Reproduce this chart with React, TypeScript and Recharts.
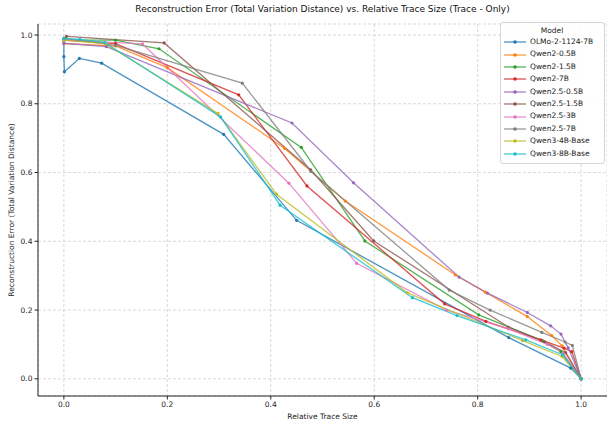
// Reconstruction error vs relative trace size, one line per model
import { LineChart, Line, XAxis, YAxis, CartesianGrid, Legend } from "recharts";

const MODELS = [
  "OLMo-2-1124-7B",
  "Qwen2-0.5B",
  "Qwen2-1.5B",
  "Qwen2-7B",
  "Qwen2.5-0.5B",
  "Qwen2.5-1.5B",
  "Qwen2.5-3B",
  "Qwen2.5-7B",
  "Qwen3-4B-Base",
  "Qwen3-8B-Base",
];

const COLORS = [
  "#1f77b4",
  "#ff7f0e",
  "#2ca02c",
  "#d62728",
  "#9467bd",
  "#8c564b",
  "#e377c2",
  "#7f7f7f",
  "#bcbd22",
  "#17becf",
];

// [relative trace size, total variation distance]
const olmo2_7b = [
  [0, 0.985], [0, 0.937], [0.001, 0.893], [0.03, 0.932], [0.073, 0.918],
  [0.309, 0.711], [0.45, 0.461], [0.86, 0.12], [0.98, 0.031], [1.0, 0.0],
];
const qwen2_05b = [
  [0, 0.975], [0.1, 0.968], [0.2, 0.905], [0.427, 0.67], [0.544, 0.517],
  [0.757, 0.302], [0.815, 0.252], [0.896, 0.181], [0.943, 0.126], [0.963, 0.096], [1.0, 0.0],
];
const qwen2_15b = [
  [0, 0.985], [0.1, 0.985], [0.184, 0.96], [0.459, 0.673], [0.582, 0.401],
  [0.802, 0.186], [0.925, 0.111], [0.961, 0.079], [1.0, 0.0],
];
const qwen2_7b = [
  [0, 0.985], [0.1, 0.975], [0.338, 0.826], [0.47, 0.561], [0.736, 0.218],
  [0.816, 0.167], [0.922, 0.113], [0.967, 0.089], [0.982, 0.079], [1.0, 0.0],
];
const qwen25_05b = [
  [0, 0.976], [0.082, 0.966], [0.441, 0.744], [0.56, 0.57], [0.764, 0.296],
  [0.819, 0.249], [0.896, 0.193], [0.941, 0.154], [0.961, 0.13], [0.975, 0.09], [1.0, 0.0],
];
const qwen25_15b = [
  [0.005, 0.996], [0.194, 0.977], [0.477, 0.608], [0.599, 0.401], [0.86, 0.15],
  [0.929, 0.108], [0.97, 0.076], [1.0, 0.0],
];
const qwen25_3b = [
  [0, 0.985], [0.152, 0.974], [0.435, 0.569], [0.566, 0.336], [0.74, 0.2],
  [0.86, 0.145], [0.935, 0.1], [0.965, 0.075], [1.0, 0.0],
];
const qwen25_7b = [
  [0, 0.99], [0.1, 0.97], [0.345, 0.86], [0.478, 0.603], [0.745, 0.258],
  [0.824, 0.2], [0.924, 0.135], [0.969, 0.107], [0.983, 0.097], [1.0, 0.0],
];
const qwen3_4b = [
  [0, 0.985], [0.08, 0.975], [0.298, 0.772], [0.411, 0.537], [0.664, 0.25],
  [0.887, 0.111], [0.963, 0.065], [1.0, 0.0],
];
const qwen3_8b = [
  [0, 0.99], [0.031, 0.987], [0.079, 0.978], [0.303, 0.762], [0.418, 0.505],
  [0.674, 0.236], [0.76, 0.184], [0.893, 0.113], [0.964, 0.07], [1.0, 0.0],
];

const SERIES = [
  olmo2_7b, qwen2_05b, qwen2_15b, qwen2_7b, qwen25_05b,
  qwen25_15b, qwen25_3b, qwen25_7b, qwen3_4b, qwen3_8b,
];

const X_TICKS = [0, 0.2, 0.4, 0.6, 0.8, 1.0];
const Y_TICKS = [0, 0.2, 0.4, 0.6, 0.8, 1.0];

const FONT = "'DejaVu Sans', sans-serif";
const tickStyle = { fontSize: 7.5, fill: "#222", fontFamily: FONT };

function ModelLegend() {
  return (
    <div
      style={{
        border: "1px solid #d5d5d5",
        borderRadius: 3,
        background: "rgba(255,255,255,0.85)",
        fontFamily: FONT,
        fontSize: 7.5,
        color: "#222",
        padding: "2px 4px 3px 3px",
        lineHeight: "12.4px",
      }}
    >
      <div style={{ textAlign: "center", lineHeight: "11px" }}>Model</div>
      {MODELS.map((m, i) => (
        <div key={m} style={{ display: "flex", alignItems: "center" }}>
          <svg width={22} height={8} style={{ marginRight: 4 }}>
            <line x1={0} y1={4} x2={22} y2={4} stroke={COLORS[i]} strokeWidth={1.3} strokeOpacity={0.8} />
            <circle cx={11} cy={4} r={1.8} fill={COLORS[i]} />
          </svg>
          <span>{m}</span>
        </div>
      ))}
    </div>
  );
}

export default function App() {
  return (
    <div style={{ position: "absolute", left: 0, top: 0, width: 607, height: 422 }}>
      <div
        style={{
          position: "absolute",
          left: 38,
          width: 569,
          top: 4,
          textAlign: "center",
          fontFamily: FONT,
          fontSize: 9,
          color: "#111",
        }}
      >
        Reconstruction Error (Total Variation Distance) vs. Relative Trace Size (Trace - Only)
      </div>
      <LineChart width={607} height={422} margin={{ top: 24, right: 0, bottom: 0, left: 0 }}>
        <CartesianGrid stroke="#cfcfcf" strokeDasharray="3 2" strokeWidth={0.8} />
        <XAxis
          dataKey="x"
          type="number"
          domain={[-0.05, 1.05]}
          allowDataOverflow
          ticks={X_TICKS}
          tickFormatter={(v: number) => v.toFixed(1)}
          tick={tickStyle}
          tickSize={3.5}
          tickMargin={2}
          height={26}
          stroke="#222"
          label={{
            value: "Relative Trace Size",
            position: "insideBottom",
            offset: 3,
            style: { fontSize: 7.5, fill: "#222", fontFamily: FONT },
          }}
        />
        <XAxis
          xAxisId="top"
          orientation="top"
          dataKey="x"
          type="number"
          domain={[-0.05, 1.05]}
          tick={false}
          tickLine={false}
          height={0}
          stroke="#222"
        />
        <YAxis
          type="number"
          domain={[-0.05, 1.032]}
          allowDataOverflow
          ticks={Y_TICKS}
          tickFormatter={(v: number) => v.toFixed(1)}
          tick={tickStyle}
          tickSize={3.5}
          tickMargin={2}
          width={38}
          stroke="#222"
          label={{
            value: "Reconstruction Error (Total Variation Distance)",
            angle: -90,
            position: "insideLeft",
            offset: 11,
            style: { fontSize: 7.5, fill: "#222", fontFamily: FONT, textAnchor: "middle" },
          }}
        />
        {SERIES.map((s, i) => (
          <Line
            key={MODELS[i]}
            name={MODELS[i]}
            data={s.map(([x, y]) => ({ x, y }))}
            dataKey="y"
            type="linear"
            stroke={COLORS[i]}
            strokeWidth={1.3}
            strokeOpacity={0.8}
            dot={{ r: 1.6, fill: COLORS[i], stroke: "none" }}
            activeDot={false}
            isAnimationActive={false}
          />
        ))}
        <Legend
          layout="vertical"
          align="center"
          verticalAlign="middle"
          content={() => <ModelLegend />}
          wrapperStyle={{ left: 500, top: 22, width: 105 }}
        />
      </LineChart>
    </div>
  );
}
